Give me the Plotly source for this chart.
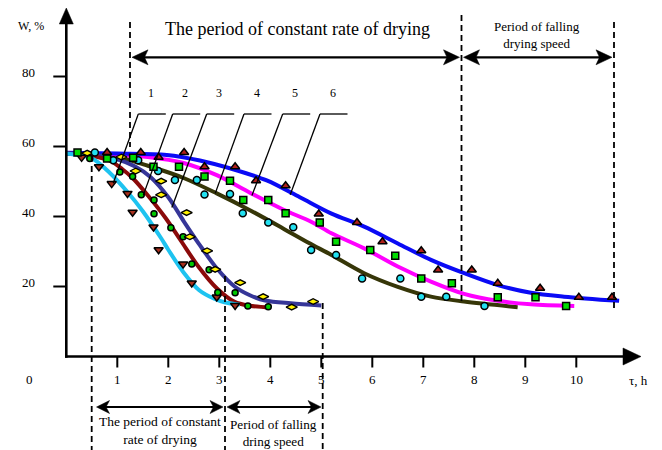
import plotly.graph_objects as go

# ---------------- data: fitted drying curves (tau, h ; W, %) ----------------
c1_t = [0, 0.5, 0.85, 1.2, 1.5, 1.85, 2.0, 2.3, 2.6, 2.9, 3.1, 3.4]
c1_w = [58, 56.6, 52.5, 47, 41.5, 34, 30.5, 24, 19, 16.5, 15.5, 14.8]

c2_t = [0, 0.5, 0.85, 1.1, 1.3, 1.6, 1.95, 2.25, 2.6, 2.95, 3.3, 3.6, 4.0]
c2_w = [58, 57.3, 56, 53.5, 51, 46, 39.5, 33, 25.5, 19.5, 15.6, 14.5, 14]

c3_t = [0, 0.6, 1.0, 1.35, 1.65, 2.0, 2.3, 2.6, 2.95, 3.3, 3.6, 3.9, 4.4, 5.0]
c3_w = [58, 57.5, 56.3, 54.3, 51.3, 45.5, 38.7, 32.2, 25.2, 20, 17.5, 16, 15.2, 14.6]

c4_t = [0, 0.5, 1.0, 1.6, 2.3, 2.95, 3.6, 4.25, 4.75, 5.2, 5.84, 6.5, 7.15, 7.8, 8.85]
c4_w = [58, 57.7, 57, 54.5, 51, 46.6, 41.8, 36.6, 32.5, 29, 23.8, 19.9, 17.1, 15.7, 14.1]

c5_t = [0, 1.0, 1.6, 2.3, 2.95, 3.6, 4.25, 4.8, 5.2, 5.84, 6.5, 7.15, 7.8, 8.46, 9.11, 9.96]
c5_w = [58, 57.6, 57, 55.3, 51.8, 46.8, 42.0, 38.5, 35.2, 30.9, 25.7, 21.4, 17.9, 15.9, 14.9, 14.4]

c6_t = [0, 1.0, 1.97, 2.62, 3.27, 3.93, 4.58, 5.19, 5.84, 6.5, 7.15, 7.8, 8.46, 9.11, 9.76, 10.84]
c6_w = [58.2, 58, 57.6, 56.0, 53.5, 50.3, 45.5, 40.9, 37.1, 32.3, 27.6, 23.8, 20.4, 18.2, 17.1, 15.9]

# ---------------- data: experimental points ----------------
p1_t = [0.30, 0.64, 0.89, 1.20, 1.30, 1.71, 1.81, 2.29, 2.46, 2.95, 3.31]
p1_w = [56.9, 54.2, 49.4, 46.6, 41.2, 37.0, 30.5, 26.4, 21.0, 17.0, 14.6]

p2_t = [0.46, 1.05, 1.30, 1.47, 1.72, 1.72, 2.05, 2.29, 2.46, 2.80, 2.97, 3.31, 3.56, 3.96]
p2_w = [56.6, 52.7, 51.4, 46.2, 44.7, 40.8, 36.8, 34.2, 26.4, 24.8, 18.3, 18.2, 14.4, 14.2]

p3_t = [0.41, 1.08, 1.36, 1.86, 1.86, 2.36, 2.42, 2.76, 2.92, 3.41, 3.86, 4.42, 4.84]
p3_w = [58.1, 57.0, 53.0, 50.1, 46.2, 41.1, 34.2, 30.2, 24.9, 21.1, 17.1, 14.1, 15.7]

p4_t = [0.56, 0.92, 1.41, 1.80, 2.13, 2.56, 2.71, 3.21, 3.46, 3.96, 4.45, 4.80, 5.29, 5.80, 6.55, 6.96, 7.45, 8.20]
p4_w = [58.3, 56.1, 56.1, 53.0, 50.4, 50.4, 46.3, 46.4, 40.9, 38.3, 36.9, 30.4, 29.0, 22.3, 22.3, 17.1, 17.1, 14.4]

p5_t = [0.22, 0.80, 1.31, 1.71, 2.21, 2.71, 3.21, 3.47, 3.96, 4.30, 4.97, 5.29, 5.96, 6.45, 6.96, 7.56, 8.46, 9.20, 9.80]
p5_w = [58.3, 56.6, 56.8, 54.2, 54.2, 51.4, 50.2, 44.7, 44.7, 40.9, 38.3, 32.8, 30.4, 28.8, 22.3, 20.9, 16.9, 16.9, 14.4]

p6_t = [0.80, 1.46, 1.81, 2.31, 2.71, 3.31, 3.72, 4.30, 4.95, 5.70, 6.20, 6.96, 7.29, 7.95, 8.46, 9.29, 10.05, 10.70]
p6_w = [58.3, 58.3, 56.9, 58.3, 54.2, 54.2, 50.2, 48.8, 40.7, 38.3, 32.8, 30.2, 24.7, 24.7, 20.9, 19.5, 16.9, 16.9]

x_ticks = [1, 2, 3, 4, 5, 6, 7, 8, 9, 10]
y_ticks = [20, 40, 60, 80]
curve_labels = ["1", "2", "3", "4", "5", "6"]
# where each numbered leader line touches its curve (tau, W)
leader_t = [0.92, 1.51, 2.07, 2.92, 3.64, 4.39]
leader_w = [49.5, 46.1, 42.6, 46.6, 46.0, 46.2]

curve_colors = ["#1EC3F0", "#8B0A0A", "#363698", "#363608", "#FF00FF", "#0A0AF5"]

# ---------------- pixel geometry helpers (layout only) ----------------
W_PX, H_PX = 662, 450
PAGE_OFF = 8            # default body margin of the html page
X0_PX, X_SCALE = 66.3, 51.0
Y0_PX, Y_SCALE = 356.5, 3.5


def X(px):
    return (px - X0_PX) / X_SCALE


def Y(py):
    return (Y0_PX - py) / Y_SCALE


def PX(x):
    return X0_PX + x * X_SCALE


def PY(w):
    return Y0_PX - w * Y_SCALE


FONT = "Liberation Serif, Times New Roman, serif"

fig = go.Figure()

curves = [(c1_t, c1_w), (c2_t, c2_w), (c3_t, c3_w), (c4_t, c4_w), (c5_t, c5_w), (c6_t, c6_w)]
for i in [3, 4, 5, 2, 1, 0]:
    t, w = curves[i]
    fig.add_trace(go.Scatter(x=t, y=w, mode="lines",
                             line=dict(color=curve_colors[i], width=4, shape="spline", smoothing=0.9),
                             showlegend=False, hoverinfo="skip"))

points = [
    (p1_t, p1_w, "triangle-down", 8, "#A8301E", 1.5),
    (p2_t, p2_w, "circle", 6, "#00C800", 1.5),
    (p3_t, p3_w, "diamond-wide", 8, "#FFF000", 1.3),
    (p4_t, p4_w, "circle", 7, "#22E0F0", 1.5),
    (p5_t, p5_w, "square", 7, "#00DD00", 1.5),
    (p6_t, p6_w, "triangle-up", 8, "#B0201A", 1.5),
]
for t, w, sym, size, col, lw in points:
    fig.add_trace(go.Scatter(x=t, y=w, mode="markers",
                             marker=dict(symbol=sym, size=size, color=col,
                                         line=dict(color="black", width=lw)),
                             showlegend=False, hoverinfo="skip"))

shapes = []


def seg(x0, y0, x1, y1, width=2.0, dash=None):
    d = dict(type="line", xref="x", yref="y", x0=X(x0), y0=Y(y0), x1=X(x1), y1=Y(y1),
             line=dict(color="black", width=width))
    if dash:
        d["line"]["dash"] = dash
    shapes.append(d)


def poly(pts):
    path = "M " + " L ".join(f"{X(a):.4f},{Y(b):.4f}" for a, b in pts) + " Z"
    shapes.append(dict(type="path", xref="x", yref="y", path=path,
                       fillcolor="black", line=dict(color="black", width=0.5)))


def hhead(tip_x, y, direction, length=13, half=6.5, notch=3.5):
    back = tip_x - direction * length
    poly([(tip_x, y), (back, y - half), (back + direction * notch, y), (back, y + half)])


def double_arrow(x_left, x_right, y, length=13, half=6.5):
    seg(x_left + 4, y, x_right - 4, y, width=2.2)
    hhead(x_left, y, -1, length, half)
    hhead(x_right, y, 1, length, half)


# axes
ax_x = PX(0)
ax_y = PY(0)
seg(ax_x, ax_y + 1.2, ax_x, 22, width=2.6)
poly([(ax_x, 8), (ax_x - 7, 24), (ax_x + 7, 24)])
seg(ax_x - 1.2, ax_y, 624, ax_y, width=2.6)
poly([(641, ax_y), (623, ax_y - 8.5), (623, ax_y + 8.5)])

# ticks
for v in y_ticks:
    seg(ax_x - 13, PY(v), ax_x, PY(v), width=2)
for v in x_ticks:
    seg(PX(v), ax_y, PX(v), ax_y + 11, width=2)

DASH = "6px,4px"
# dashed period boundaries (top)
seg(130, 22, 130, 147, width=1.8, dash=DASH)
seg(461.5, 15, 461.5, 301, width=1.8, dash=DASH)
seg(614, 22, 614, 311, width=1.8, dash=DASH)
# dashed period boundaries (bottom)
seg(91.7, 156, 91.7, 452, width=1.8, dash=DASH)
seg(225, 276, 225, 452, width=1.8, dash=DASH)
seg(322.7, 303, 322.7, 452, width=1.8, dash=DASH)

# period arrows
double_arrow(132, 459.5, 57.3, length=16, half=7.5)
double_arrow(463.5, 612, 57.3, length=16, half=7.5)
double_arrow(96.5, 223, 407, length=13, half=6.5)
double_arrow(227, 321, 407, length=13, half=6.5)

# numbered leader lines
seg_starts = [138.3, 172.7, 206.7, 244.0, 282.7, 320.0]
seg_len = 27.5
lead_y = 114
for i in range(6):
    xl = seg_starts[i]
    seg(xl, lead_y, xl + seg_len, lead_y, width=1.3)
    seg(xl, lead_y, PX(leader_t[i]), PY(leader_w[i]), width=1.3)

annotations = []


def text(x_px, y_px, s, size, **kw):
    d = dict(x=X(x_px), y=Y(y_px), xref="x", yref="y", text=s, showarrow=False,
             font=dict(family=FONT, size=size, color="black"), xanchor="center", yanchor="middle")
    d.update(kw)
    annotations.append(d)


for i, lab in enumerate(curve_labels):
    text(seg_starts[i] + seg_len / 2 - 1, 92.5, lab, 12)

for v in y_ticks:
    text(28, PY(v) - 4, str(v), 13)
for v in x_ticks:
    text(PX(v), 379.5, str(v), 13)
text(29, 379.5, "0", 13)
text(638, 380, "τ, h", 13)
text(31, 26, "W, %", 12)

text(297, 28.5, "The period of constant rate of drying", 18)
text(537, 35, "Period of falling<br>drying speed", 13)
text(159.5, 430, "The period of constant<br>rate of drying", 13.5)
text(273, 433, "Period of falling<br>dring speed", 13.2)

# the figure starts PAGE_OFF pixels into the page, so the visible window
# (page pixels 0..662 x 0..450) corresponds to figure pixels -8..654
fig.update_layout(
    width=W_PX, height=H_PX,
    margin=dict(l=0, r=0, t=0, b=0),
    paper_bgcolor="white", plot_bgcolor="white",
    xaxis=dict(range=[X(PAGE_OFF), X(PAGE_OFF + W_PX)], visible=False, fixedrange=True),
    yaxis=dict(range=[Y(PAGE_OFF + H_PX), Y(PAGE_OFF)], visible=False, fixedrange=True),
    shapes=shapes, annotations=annotations, showlegend=False,
)

fig.write_html("out.html")
